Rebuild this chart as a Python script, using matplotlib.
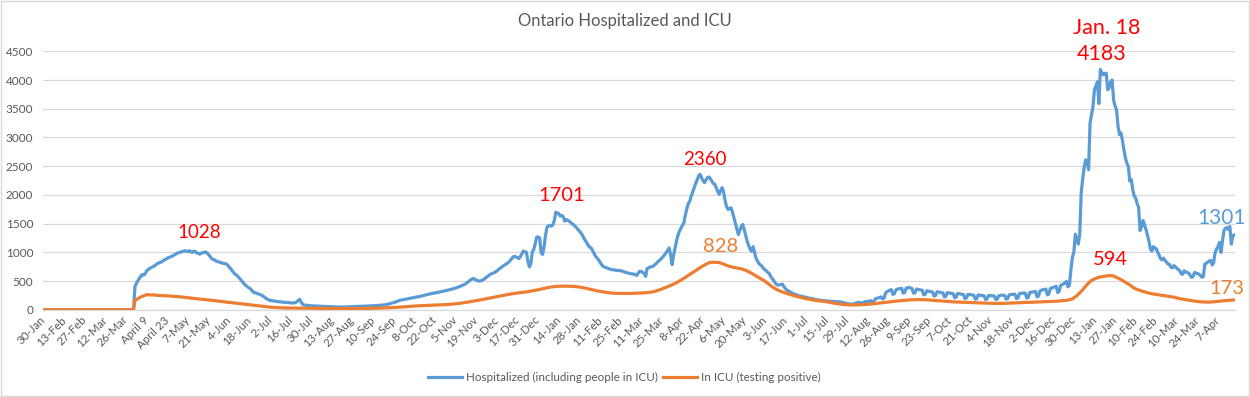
import numpy as np
import matplotlib
matplotlib.use("Agg")
import matplotlib.pyplot as plt
import matplotlib.patches as patches

# daily values, one row = two weeks (starts at 30-Jan-2020, day 0)
hospitalized = [
    0, 0, 0, 0, 0, 0, 0, 0, 0, 0, 0, 0, 0, 0,
    0, 0, 0, 0, 0, 0, 0, 0, 0, 0, 0, 0, 0, 0,
    0, 0, 0, 0, 0, 0, 0, 0, 0, 0, 0, 0, 0, 0,
    0, 0, 0, 0, 0, 0, 0, 0, 0, 0, 0, 0, 0, 0,
    0, 0, 0, 0, 0, 0, 405, 462, 506, 546, 589, 614, 605, 632,
    680, 700, 720, 735, 747, 760, 780, 800, 815, 825, 834, 850, 870, 880,
    900, 910, 920, 930, 945, 960, 975, 990, 997, 1005, 1014, 1020, 1028, 1020,
    1015, 1028, 1010, 1000, 1020, 1014, 990, 979, 970, 985, 995, 1000, 1005, 990,
    960, 930, 893, 880, 870, 850, 840, 834, 825, 815, 810, 806, 800, 780,
    740, 719, 680, 650, 620, 603, 580, 550, 520, 487, 460, 430, 410, 390,
    373, 350, 320, 300, 296, 285, 275, 265, 256, 240, 220, 200, 185, 170,
    165, 160, 155, 150, 148, 145, 140, 138, 135, 132, 130, 128, 125, 123,
    120, 118, 120, 125, 140, 165, 182, 130, 95, 83, 80, 78, 75, 72,
    70, 68, 67, 66, 65, 64, 63, 62, 60, 58, 57, 56, 55, 54,
    53, 52, 51, 50, 49, 49, 48, 48, 49, 50, 51, 52, 53, 54,
    55, 56, 57, 58, 58, 59, 60, 61, 62, 63, 64, 65, 66, 68,
    70, 72, 74, 76, 78, 80, 82, 85, 88, 92, 98, 105, 112, 120,
    125, 135, 145, 155, 165, 170, 175, 180, 185, 190, 195, 199, 205, 210,
    215, 220, 225, 230, 236, 242, 248, 256, 262, 268, 274, 280, 286, 290,
    295, 300, 305, 310, 314, 320, 326, 333, 340, 346, 352, 358, 365, 372,
    380, 390, 400, 410, 420, 430, 445, 459, 480, 500, 520, 535, 546, 530,
    515, 505, 499, 505, 515, 530, 550, 570, 590, 610, 625, 633, 645, 660,
    680, 700, 720, 740, 760, 776, 790, 810, 830, 860, 890, 920, 930, 920,
    905, 893, 930, 980, 1024, 1010, 1000, 850, 747, 800, 1007, 1050, 1150, 1267,
    1267, 1250, 990, 964, 1100, 1300, 1440, 1460, 1470, 1456, 1480, 1560, 1701, 1680,
    1674, 1631, 1644, 1620, 1544, 1570, 1560, 1544, 1520, 1500, 1480, 1456, 1430, 1400,
    1370, 1339, 1300, 1250, 1206, 1170, 1120, 1090, 1077, 1030, 980, 932, 900, 870,
    830, 790, 757, 745, 735, 727, 715, 705, 699, 695, 690, 688, 685, 682,
    682, 675, 665, 655, 645, 640, 635, 630, 625, 622, 610, 600, 640, 670,
    670, 650, 630, 582, 717, 730, 745, 750, 757, 780, 800, 830, 850, 874,
    900, 930, 960, 1000, 1040, 1077, 950, 787, 950, 1077, 1200, 1300, 1369, 1420,
    1470, 1514, 1650, 1760, 1850, 1893, 1980, 2050, 2126, 2200, 2260, 2330, 2360, 2300,
    2250, 2213, 2260, 2300, 2313, 2280, 2240, 2200, 2185, 2120, 2060, 2010, 2080, 2126,
    2050, 1900, 1800, 1748, 1760, 1776, 1700, 1601, 1500, 1400, 1311, 1380, 1450, 1486,
    1400, 1300, 1194, 1120, 1050, 1019, 1100, 1000, 902, 850, 806, 780, 760, 719,
    700, 680, 650, 633, 580, 546, 510, 470, 440, 430, 435, 440, 447, 400,
    370, 343, 330, 315, 300, 286, 275, 265, 255, 245, 240, 235, 227, 222,
    220, 210, 205, 200, 195, 190, 182, 178, 175, 170, 166, 162, 160, 158,
    155, 152, 150, 148, 146, 145, 143, 142, 140, 138, 135, 125, 120, 115,
    110, 105, 100, 95, 100, 110, 120, 125, 130, 120, 115, 130, 140, 145,
    145, 150, 160, 135, 140, 190, 200, 205, 215, 225, 190, 200, 290, 314,
    330, 343, 350, 270, 280, 345, 360, 365, 370, 375, 290, 300, 375, 385,
    390, 380, 370, 290, 295, 360, 355, 350, 345, 340, 260, 270, 330, 325,
    320, 315, 310, 240, 250, 315, 310, 305, 300, 295, 225, 235, 300, 295,
    290, 285, 280, 210, 220, 285, 280, 275, 270, 265, 195, 205, 270, 265,
    262, 258, 255, 185, 195, 260, 255, 250, 248, 245, 180, 190, 250, 248,
    245, 243, 240, 180, 190, 245, 250, 255, 252, 250, 185, 195, 260, 265,
    268, 270, 272, 195, 205, 280, 285, 290, 292, 290, 205, 215, 300, 305,
    310, 315, 318, 225, 240, 330, 340, 350, 355, 360, 260, 275, 370, 380,
    392, 400, 410, 300, 320, 420, 440, 450, 470, 496, 400, 430, 700, 912,
    1000, 1317, 1232, 1144, 1317, 2038, 2279, 2472, 2610, 2594, 2440, 3250, 3400, 3540,
    3830, 3900, 3970, 3590, 4183, 4132, 4090, 4114, 4120, 3830, 3861, 3970, 4000, 3650,
    3550, 3480, 3200, 3050, 3080, 2950, 2790, 2650, 2550, 2500, 2240, 2270, 2100, 1980,
    1950, 1850, 1785, 1381, 1450, 1555, 1480, 1400, 1300, 1200, 1058, 1020, 1100, 1080,
    1058, 1000, 950, 885, 870, 900, 860, 830, 798, 790, 740, 730, 770, 750,
    720, 700, 680, 624, 620, 680, 660, 650, 640, 600, 566, 580, 650, 640,
    630, 620, 600, 566, 580, 798, 810, 830, 850, 860, 780, 820, 1000, 1058,
    1100, 1173, 1000, 1200, 1381, 1420, 1428, 1400, 1450, 1144, 1290, 1301,
]

icu = [
    0, 0, 0, 0, 0, 0, 0, 0, 0, 0, 0, 0, 0, 0,
    0, 0, 0, 0, 0, 0, 0, 0, 0, 0, 0, 0, 0, 0,
    0, 0, 0, 0, 0, 0, 0, 0, 0, 0, 0, 0, 0, 0,
    0, 0, 0, 0, 0, 0, 0, 0, 0, 0, 0, 0, 0, 0,
    0, 0, 0, 0, 0, 0, 167, 180, 196, 210, 225, 233, 245, 255,
    264, 262, 260, 258, 260, 257, 255, 252, 250, 248, 247, 246, 245, 244,
    243, 242, 240, 238, 236, 235, 233, 230, 228, 225, 222, 220, 217, 214,
    211, 208, 205, 202, 199, 196, 193, 190, 187, 185, 183, 180, 177, 174,
    171, 168, 165, 162, 159, 156, 153, 150, 147, 144, 141, 138, 135, 132,
    129, 126, 123, 120, 117, 114, 111, 108, 105, 102, 99, 96, 93, 90,
    87, 84, 81, 78, 75, 72, 69, 66, 63, 60, 57, 54, 51, 48,
    46, 44, 42, 40, 38, 37, 36, 35, 34, 33, 33, 32, 32, 31,
    31, 31, 30, 30, 30, 30, 29, 29, 29, 29, 28, 28, 28, 28,
    27, 27, 27, 26, 26, 26, 25, 25, 25, 24, 24, 24, 23, 23,
    23, 22, 22, 22, 21, 21, 21, 21, 20, 20, 20, 20, 21, 21,
    21, 22, 22, 22, 23, 23, 23, 24, 24, 25, 25, 26, 26, 27,
    27, 28, 28, 29, 30, 31, 32, 33, 34, 35, 36, 37, 38, 40,
    41, 42, 44, 45, 47, 48, 50, 52, 54, 56, 58, 60, 62, 64,
    66, 68, 70, 71, 72, 73, 74, 75, 76, 77, 78, 79, 80, 81,
    82, 83, 84, 85, 86, 87, 88, 90, 92, 94, 96, 98, 100, 102,
    104, 107, 110, 114, 118, 122, 126, 130, 134, 138, 142, 146, 150, 155,
    160, 165, 170, 175, 180, 185, 190, 195, 200, 205, 210, 215, 220, 225,
    230, 235, 240, 245, 250, 255, 260, 265, 270, 274, 278, 282, 286, 290,
    293, 296, 299, 302, 305, 308, 312, 316, 320, 325, 330, 335, 340, 345,
    350, 355, 360, 366, 372, 378, 384, 390, 394, 398, 401, 404, 406, 408,
    410, 411, 412, 412, 412, 412, 412, 411, 410, 409, 408, 406, 403, 400,
    396, 392, 388, 383, 378, 372, 366, 360, 354, 348, 342, 336, 331, 326,
    321, 316, 312, 308, 304, 300, 297, 294, 292, 290, 288, 287, 286, 286,
    286, 285, 285, 284, 284, 284, 285, 285, 286, 286, 287, 288, 289, 290,
    292, 294, 296, 298, 300, 303, 306, 310, 314, 320, 327, 335, 343, 352,
    362, 372, 382, 392, 401, 412, 424, 436, 448, 460, 472, 487, 502, 517,
    532, 548, 565, 582, 600, 617, 634, 651, 668, 685, 702, 719, 735, 750,
    765, 780, 795, 808, 818, 824, 827, 828, 828, 827, 825, 821, 815, 806,
    795, 785, 775, 765, 757, 750, 744, 738, 733, 728, 724, 719, 713, 706,
    698, 688, 676, 663, 650, 636, 620, 605, 590, 575, 560, 546, 530, 515,
    500, 480, 460, 440, 420, 400, 385, 370, 355, 340, 330, 320, 310, 300,
    292, 284, 276, 268, 260, 252, 245, 238, 231, 224, 218, 212, 206, 200,
    195, 190, 185, 180, 175, 170, 166, 162, 158, 155, 152, 149, 146, 143,
    140, 135, 130, 125, 120, 115, 111, 107, 103, 100, 97, 94, 92, 90,
    88, 86, 85, 84, 84, 84, 85, 86, 87, 88, 89, 90, 92, 94,
    96, 98, 100, 103, 106, 109, 112, 115, 118, 121, 124, 127, 130, 133,
    136, 139, 142, 145, 148, 151, 154, 157, 160, 162, 164, 166, 168, 170,
    172, 174, 175, 176, 177, 178, 178, 178, 178, 177, 176, 175, 174, 172,
    170, 168, 166, 164, 162, 160, 158, 156, 154, 152, 150, 148, 146, 144,
    142, 140, 138, 137, 136, 135, 134, 133, 132, 131, 130, 129, 128, 127,
    126, 125, 124, 123, 122, 121, 120, 119, 118, 117, 116, 115, 115, 114,
    114, 113, 113, 112, 112, 112, 112, 112, 113, 113, 114, 114, 115, 116,
    117, 118, 119, 120, 121, 122, 123, 124, 125, 126, 127, 128, 129, 130,
    131, 132, 133, 134, 135, 136, 137, 138, 139, 140, 141, 142, 143, 144,
    146, 148, 150, 152, 154, 156, 158, 160, 163, 166, 170, 175, 182, 190,
    210, 225, 245, 270, 295, 320, 350, 380, 410, 440, 465, 490, 510, 525,
    537, 548, 558, 566, 572, 577, 582, 586, 590, 592, 594, 594, 593, 590,
    575, 565, 553, 540, 525, 510, 495, 480, 465, 450, 435, 415, 395, 376,
    365, 355, 345, 336, 328, 320, 312, 305, 298, 291, 285, 280, 276, 272,
    268, 264, 260, 256, 252, 248, 244, 240, 236, 232, 228, 224, 220, 216,
    205, 200, 195, 190, 185, 180, 176, 172, 168, 164, 160, 156, 152, 148,
    145, 142, 140, 138, 136, 135, 134, 134, 135, 136, 138, 140, 142, 145,
    148, 150, 152, 155, 158, 160, 162, 164, 166, 168, 170, 173,
]

# one label every 14 days
tick_labels = [
    "30-Jan", "13-Feb", "27-Feb", "12-Mar", "26-Mar", "April 9", "April 23",
    "7-May", "21-May", "4-Jun", "18-Jun", "2-Jul", "16-Jul", "30-Jul",
    "13-Aug", "27-Aug", "10-Sep", "24-Sep", "8-Oct", "22-Oct", "5-Nov",
    "19-Nov", "3-Dec", "17-Dec", "31-Dec", "14-Jan", "28-Jan", "11-Feb",
    "25-Feb", "11-Mar", "25-Mar", "8-Apr", "22-Apr", "6-May", "20-May",
    "3-Jun", "17-Jun", "1-Jul", "15-Jul", "29-Jul", "12-Aug", "26-Aug",
    "9-Sep", "23-Sep", "7-Oct", "21-Oct", "4-Nov", "18-Nov", "2-Dec",
    "16-Dec", "30-Dec", "13-Jan", "27-Jan", "10-Feb", "24-Feb", "10-Mar",
    "24-Mar", "7-Apr",
]

# callouts: text, day index, y value, colour, size
callout_text = ["1028", "1701", "2360", "828", "Jan. 18", "4183", "594", "1301", "173"]
callout_day = [106, 352, 449, 460, 722, 719, 725, 800, 804]
callout_val = [1348, 1989, 2622, 1097, 4901, 4450, 884, 1600, 378]
callout_color = ["red", "red", "red", "#ED7D31", "red", "red", "red", "#5B9BD5", "#ED7D31"]
callout_size = [13.5, 14.5, 13.5, 14.5, 15.5, 15.5, 14.5, 15, 14.5]

BLUE = "#5B9BD5"
ORANGE = "#ED7D31"
GREY = "#595959"
GRID = "#D9D9D9"

plt.rcParams["font.family"] = ["Lato", "DejaVu Sans"]

days = np.arange(len(hospitalized))

fig = plt.figure(figsize=(12.5, 3.97), dpi=100)
ax = fig.add_axes([0.0344, 0.2196, 0.9536, 0.6512])

ax.plot(days, hospitalized, color=BLUE, lw=2.3, solid_joinstyle="round",
        label="Hospitalized (including people in ICU)", zorder=3)
ax.plot(days, icu, color=ORANGE, lw=2.3, solid_joinstyle="round",
        label="In ICU (testing positive)", zorder=4)

ax.set_xlim(-0.5, len(days) - 0.5)
ax.set_ylim(0, 4500)
ax.set_yticks(np.arange(0, 4501, 500))
ax.yaxis.grid(True, color=GRID, lw=0.9)
ax.set_axisbelow(True)
for s in ["left", "right", "top"]:
    ax.spines[s].set_visible(False)
ax.spines["bottom"].set_color(GRID)
ax.spines["bottom"].set_linewidth(0.9)

ax.set_xticks(days[::14])
ax.set_xticklabels(tick_labels, rotation=45, ha="right", va="center",
                   rotation_mode="anchor", fontsize=8.3, color=GREY)
ax.tick_params(axis="x", length=0, pad=6)
ax.tick_params(axis="y", length=0, pad=7, labelsize=8.5, labelcolor=GREY)

for t, d, v, c, s in zip(callout_text, callout_day, callout_val, callout_color, callout_size):
    ax.text(d, v, t, color=c, fontsize=s, ha="center", va="center", clip_on=False)

fig.text(0.5, 0.947, "Ontario Hospitalized and ICU", ha="center", va="center",
         fontsize=12, color=GREY)

fig.legend(loc="center", bbox_to_anchor=(0.4995, 0.05), ncol=2, frameon=False,
           fontsize=8.4, handlelength=2.9, handletextpad=0.4, columnspacing=0.4,
           labelcolor=GREY)

# chart area border
fig.patches.append(patches.Rectangle((0.0008, 0.0013), 0.9984, 0.9974, fill=False,
                                     edgecolor=GRID, lw=1, transform=fig.transFigure))

plt.savefig("out.png", dpi=100)
